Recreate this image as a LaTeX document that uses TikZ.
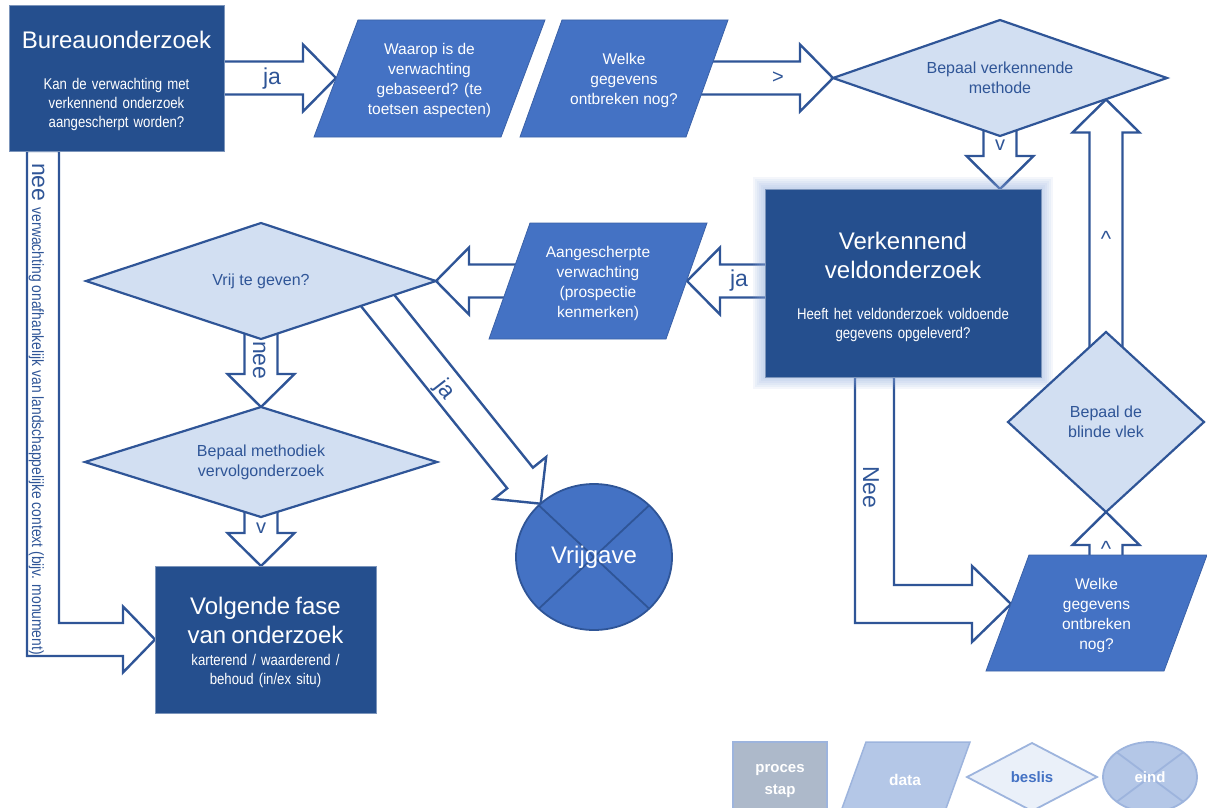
\documentclass[tikz,border=0pt]{standalone}
\usepackage{fontspec}
\setmainfont{Liberation Sans}
\newfontfamily\smal[FakeStretch=0.85]{Liberation Sans}
\usetikzlibrary{shapes.geometric,calc,backgrounds}

\definecolor{donker}{HTML}{254F8E}
\definecolor{midden}{HTML}{4472C4}
\definecolor{licht}{HTML}{D2DFF2}
\definecolor{lijn}{HTML}{2F5597}
\definecolor{gloed}{HTML}{8FAADC}
\definecolor{legproces}{HTML}{ADB9CA}
\definecolor{legdata}{HTML}{B4C7E7}
\definecolor{legbeslis}{HTML}{EAF0F9}
\definecolor{legrand}{HTML}{9DB4DD}

\newcommand{\titel}{\normalfont\fontsize{24}{29}\selectfont}

\tikzset{
        proces/.style={rectangle, fill=donker, draw=donker!60!white, line width=0.8pt, text=white, align=center, inner sep=0pt, outer sep=0pt, font=\smal\fontsize{15.5}{19}\selectfont, execute at begin node=\setlength{\parindent}{0pt}},
        datavorm/.style={fill=midden, draw=midden!85!black, line width=0.8pt},
        legdatavorm/.style={fill=legdata, draw=legrand, line width=1.5pt},
        datatekst/.style={text=white, align=center, inner sep=0pt, yshift=-2pt, font=\fontsize{15.5}{20}\selectfont},
        beslis/.style={diamond, fill=licht, draw=lijn, line width=2.2pt, text=lijn, align=center, inner sep=0pt, outer sep=0pt, font=\fontsize{16}{20}\selectfont},
        eind/.style={ellipse, fill=midden, draw=lijn, line width=1.8pt, text=white, inner sep=0pt, outer sep=0pt, font=\fontsize{24}{29}\selectfont,
          path picture={\draw[lijn, line width=1.8pt] (path picture bounding box.north west) -- (path picture bounding box.south east) (path picture bounding box.north east) -- (path picture bounding box.south west);}},
        eindleg/.style={ellipse, fill=legdata, draw=legrand, line width=1.8pt, text=white, inner sep=0pt, outer sep=0pt, font=\bfseries\fontsize{15}{18}\selectfont,
          path picture={\draw[legrand, line width=1.8pt] (path picture bounding box.north west) -- (path picture bounding box.south east) (path picture bounding box.north east) -- (path picture bounding box.south west);}},
        pijl/.style={fill=white, draw=lijn, line width=2.4pt, line join=miter},
        pijltekst/.style={text=lijn, inner sep=0pt, font=\fontsize{23}{23}\selectfont},
        klein/.style={font=\fontsize{20}{20}\selectfont},
        legenda/.style={text=white, font=\bfseries\fontsize{15}{22}\selectfont, align=center, inner sep=0pt, outer sep=0pt}
          }

\newcommand{\blokpijl}[3][]{%
  \coordinate (kop) at ($(#3)!33pt!(#2)$);
  \draw[pijl,#1] ($(#2)!16.5pt!90:(#3)$) -- ($(kop)!16.5pt!90:(#3)$) -- ($(kop)!33.5pt!90:(#3)$) -- (#3)
    -- ($(kop)!33.5pt!-90:(#3)$) -- ($(kop)!16.5pt!-90:(#3)$) -- ($(#2)!16.5pt!-90:(#3)$) -- cycle;
}

\newcommand{\datablok}[7][datavorm]{%
  \draw[#1] ({#3-#5+#7/2},{#4-#6}) -- ({#3+#5+#7/2},{#4-#6}) -- ({#3+#5-#7/2},{#4+#6}) -- ({#3-#5-#7/2},{#4+#6}) -- cycle;
  \node[datatekst] (#2) at (#3,#4)
}

\begin{document}
\begin{tikzpicture}[x=1pt,y=-1pt]
      \useasboundingbox (0,0) rectangle (1207,808);
      \clip (0,0) rectangle (1207,808);

      \node[proces, minimum width=215pt, minimum height=146pt, text width=205pt] (bureau) at (116.5,78)
        {{\titel Bureauonderzoek\par}\vspace{22pt}Kan de verwachting met\\verkennend onderzoek\\aangescherpt worden?\par\vspace{-5pt}};
      \datablok{waarop}{429.5}{78.5}{93.5}{58.5}{44} {Waarop is de\\verwachting\\gebaseerd? (te\\toetsen aspecten)};
      \datablok{welke}{624}{78.5}{83}{58.5}{42} {Welke\\gegevens\\ontbreken nog?};
      \node[beslis, minimum width=334pt, minimum height=116pt, aspect=2.9] (methode) at (1000,78) {Bepaal verkennende\\methode};
      \node[proces, minimum width=276pt, minimum height=188pt, text width=260pt] (veld) at (903,283)
        {{\titel Verkennend\\veldonderzoek\par}\vspace{22pt}Heeft het veldonderzoek voldoende\\gegevens opgeleverd?\par\vspace{-8pt}};
      \datablok{aangescherpt}{598}{281}{88.5}{58}{41} {Aangescherpte\\verwachting\\(prospectie\\kenmerken)};
      \node[beslis, minimum width=350pt, minimum height=116pt, aspect=3] (vrij) at (261,281) {Vrij te geven?};
      \node[beslis, minimum width=352pt, minimum height=110pt, aspect=3.2] (methodiek) at (261,462) {Bepaal methodiek\\vervolgonderzoek};
      \node[proces, minimum width=221pt, minimum height=147pt, text width=210pt] (volgende) at (265.5,639.5)
        {{\titel Volgende fase\\van onderzoek\par}\vspace{3pt}karterend / waarderend /\\behoud (in/ex situ)\par\vspace{-6pt}};
      \node[eind, minimum width=156pt, minimum height=146pt] (vrijgave) at (594,557) {Vrijgave};
      \node[beslis, minimum width=196pt, minimum height=180pt, aspect=1.1] (blinde) at (1106,422) {Bepaal de\\blinde vlek};
      \datablok{ontbreken}{1096.5}{613}{89}{58}{43} {Welke\\gegevens\\ontbreken\\nog?};

      \coordinate (waarop-in) at (336,78);
      \coordinate (welke-uit) at (welke.center |- methode.west);
      \coordinate (veld-in) at (veld.north -| methode.south);
      \coordinate (veld-uit) at (veld.center |- vrij.east);
      \coordinate (aang-in) at (687,281);
      \coordinate (aang-uit) at (aangescherpt.center |- vrij.east);
      \coordinate (volgende-in) at (volgende.north -| methodiek.south);
      \coordinate (ja-uit) at (370,291);
      \coordinate (ontbreken-uit) at (1106,590);
      \coordinate (methode-in) at (1106,99.5);
      \coordinate (nee-in) at (1011,604);

      \begin{scope}[on background layer]
        \blokpijl{bureau.center}{waarop-in}
        \blokpijl{welke-uit}{methode.west}
        \blokpijl{methode.center}{veld-in}
        \blokpijl{veld-uit}{aang-in}
        \blokpijl{aang-uit}{vrij.east}
        \blokpijl{vrij.center}{methodiek.north}
        \blokpijl{methodiek.center}{volgende-in}
        \blokpijl{ja-uit}{vrijgave.135}
        \blokpijl{ontbreken-uit}{blinde.south}
        \blokpijl{blinde.center}{methode-in}
        \draw[pijl] ([xshift=18pt]bureau.south west) |- ([xshift=-32pt,yshift=-16.5pt]volgende.west)
          -- ([xshift=-32pt,yshift=-33pt]volgende.west) -- (volgende.west) -- ([xshift=-32pt,yshift=33pt]volgende.west)
          -- ([xshift=-32pt,yshift=16.5pt]volgende.west) -| ([xshift=50pt]bureau.south west) -- cycle;
        \draw[pijl] ([xshift=90pt]veld.south west) |- ([xshift=-39pt,yshift=-19pt]nee-in)
          -- ([xshift=-39pt,yshift=-38pt]nee-in) -- (nee-in) -- ([xshift=-39pt,yshift=38pt]nee-in)
          -- ([xshift=-39pt,yshift=19pt]nee-in) -| ([xshift=129pt]veld.south west) -- cycle;
        \foreach \g in {2,4,...,12}
          \fill[gloed, opacity=0.1] ($(veld.south west)+(-\g,\g)$) rectangle ($(veld.north east)+(\g,-\g)$);
      \end{scope}

      \node[pijltekst] (ja1) at (272,79) {ja};
      \node[pijltekst, klein] (groter) at (778,78) {>};
      \node[pijltekst, klein] (v1) at (1000,145) {v};
      \node[pijltekst] (ja2) at (739,281) {ja};
      \node[pijltekst, rotate=-90, anchor=base west] (nee1) at (253,341) {nee};
      \node[pijltekst, klein] (v2) at (261,528) {v};
      \node[pijltekst, rotate=-52] (ja3) at (445,390) {ja};
      \node[pijltekst, font=\fontsize{22}{22}\selectfont] (op1) at (1106,549) {\textasciicircum};
      \node[pijltekst, font=\fontsize{22}{22}\selectfont] (op2) at (1106,239) {\textasciicircum};
      \node[pijltekst, rotate=-90, anchor=base west] (nee2) at (863,466) {Nee};
      \node[pijltekst, rotate=-90, anchor=base west] (nee3) at (32,163)
        {nee\ {\smal\fontsize{16.3}{16}\selectfont verwachting onafhankelijk van landschappelijke context (bijv. monument)}};

      \node[proces, legenda, fill=legproces, draw=legrand, line width=1.5pt, minimum width=94pt, minimum height=78pt] (legproces) at (780,781) {proces\\stap};
      \datablok[legdatavorm]{legdata}{905}{778}{52}{36}{26} {\bfseries data};
      \node[beslis, fill=legbeslis, draw=legrand, text=midden, line width=1.8pt, font=\bfseries\fontsize{15}{18}\selectfont, minimum width=130pt, minimum height=68pt, aspect=1.9] (legbeslis) at (1032,777) {beslis};
      \node[eindleg, minimum width=94pt, minimum height=70pt] (legeind) at (1150,777) {eind};
\end{tikzpicture}
\end{document}
